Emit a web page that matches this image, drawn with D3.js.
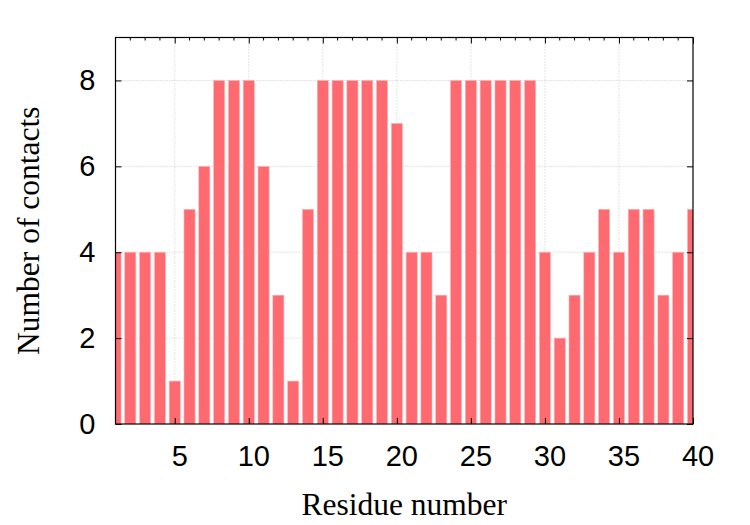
<!DOCTYPE html>
<html>
<head>
<meta charset="utf-8">
<script src="https://cdn.jsdelivr.net/npm/d3@7"></script>
<style>
  body { margin: 0; background: #fff; }
</style>
</head>
<body>
<div class="canvas"></div>
<script>
// data
const residues = d3.range(1, 41);
const contacts = [4, 4, 4, 4, 1, 5, 6, 8, 8, 8,
                  6, 3, 1, 5, 8, 8, 8, 8, 8, 7,
                  4, 4, 3, 8, 8, 8, 8, 8, 8, 4,
                  2, 3, 4, 5, 4, 5, 5, 3, 4, 5];
const xTicks = [5, 10, 15, 20, 25, 30, 35, 40];
const yTicks = [0, 2, 4, 6, 8];

const width = 750, height = 525;
const margin = { top: 37.5, right: 57, bottom: 101, left: 115.5 };
const graphWidth = width - margin.left - margin.right;
const graphHeight = height - margin.top - margin.bottom;

const svg = d3.select('.canvas')
    .append('svg')
    .attr('width', width)
    .attr('height', height);

const graph = svg.append('g')
    .attr('transform', `translate(${margin.left}, ${margin.top})`);

const x = d3.scaleLinear().domain([1, 40]).range([0, graphWidth]);
const y = d3.scaleLinear().domain([0, 9]).range([graphHeight, 0]);

svg.append('defs').append('clipPath')
    .attr('id', 'plot')
    .append('rect')
    .attr('width', graphWidth)
    .attr('height', graphHeight);

// grid
const grid = graph.append('g')
    .attr('stroke', '#c8c8c8')
    .attr('stroke-width', 1)
    .attr('stroke-dasharray', '1,2');

grid.selectAll('.gx')
    .data(xTicks.filter(d => d < 40))
    .enter().append('line')
    .attr('x1', d => x(d)).attr('x2', d => x(d))
    .attr('y1', 0).attr('y2', graphHeight);

grid.selectAll('.gy')
    .data(yTicks.filter(d => d > 0))
    .enter().append('line')
    .attr('x1', 0).attr('x2', graphWidth)
    .attr('y1', d => y(d)).attr('y2', d => y(d));

// bars
const barW = x(1.75) - x(1);
graph.append('g')
    .attr('clip-path', 'url(#plot)')
    .selectAll('rect')
    .data(residues)
    .enter().append('rect')
    .attr('x', (d, i) => x(d) - barW / 2)
    .attr('y', (d, i) => y(contacts[i]))
    .attr('width', barW)
    .attr('height', (d, i) => graphHeight - y(contacts[i]))
    .attr('fill', '#ff6970')
    .attr('stroke', '#ffb8bb')
    .attr('stroke-width', 0.6);

// axes: ticks pointing inward, labels on bottom and left
const tickFont = '"Liberation Sans", Arial, sans-serif';

const xAxis = d3.axisBottom(x).tickValues(xTicks).tickSize(-6).tickPadding(21);
const yAxis = d3.axisLeft(y).tickValues(yTicks).tickSize(-6).tickPadding(20);

const xAxisGroup = graph.append('g')
    .attr('transform', `translate(0, ${graphHeight})`)
    .call(xAxis);
const yAxisGroup = graph.append('g').call(yAxis);

[xAxisGroup, yAxisGroup].forEach(g => {
    g.select('.domain').remove();
    g.selectAll('text')
        .attr('font-family', tickFont)
        .attr('font-size', 29)
        .attr('fill', '#000');
});
// x labels sit a little right of their ticks in the original
xAxisGroup.selectAll('text').attr('dy', '0.71em').attr('dx', 4.5);

// top and right mirrored ticks
graph.append('g').call(d3.axisTop(x).tickValues(xTicks).tickSize(-6).tickFormat(''))
    .select('.domain').remove();
graph.append('g')
    .attr('transform', `translate(${graphWidth}, 0)`)
    .call(d3.axisRight(y).tickValues(yTicks).tickSize(-6).tickFormat(''))
    .select('.domain').remove();

// minor x ticks on top
graph.append('g')
    .selectAll('line')
    .data(residues.filter(d => d % 5 !== 0))
    .enter().append('line')
    .attr('x1', d => x(d)).attr('x2', d => x(d))
    .attr('y1', 0).attr('y2', 3)
    .attr('stroke', '#000');

// frame
graph.append('rect')
    .attr('width', graphWidth)
    .attr('height', graphHeight)
    .attr('fill', 'none')
    .attr('stroke', '#000')
    .attr('stroke-width', 1.2);

// axis titles
svg.append('text')
    .attr('x', margin.left + graphWidth / 2)
    .attr('y', 515)
    .attr('text-anchor', 'middle')
    .attr('font-family', '"Liberation Serif", "Times New Roman", serif')
    .attr('font-size', 31.5)
    .text('Residue number');

svg.append('text')
    .attr('transform', `translate(39, ${margin.top + graphHeight / 2}) rotate(-90)`)
    .attr('text-anchor', 'middle')
    .attr('font-family', '"Liberation Serif", "Times New Roman", serif')
    .attr('font-size', 31.5)
    .text('Number of contacts');
</script>
</body>
</html>
